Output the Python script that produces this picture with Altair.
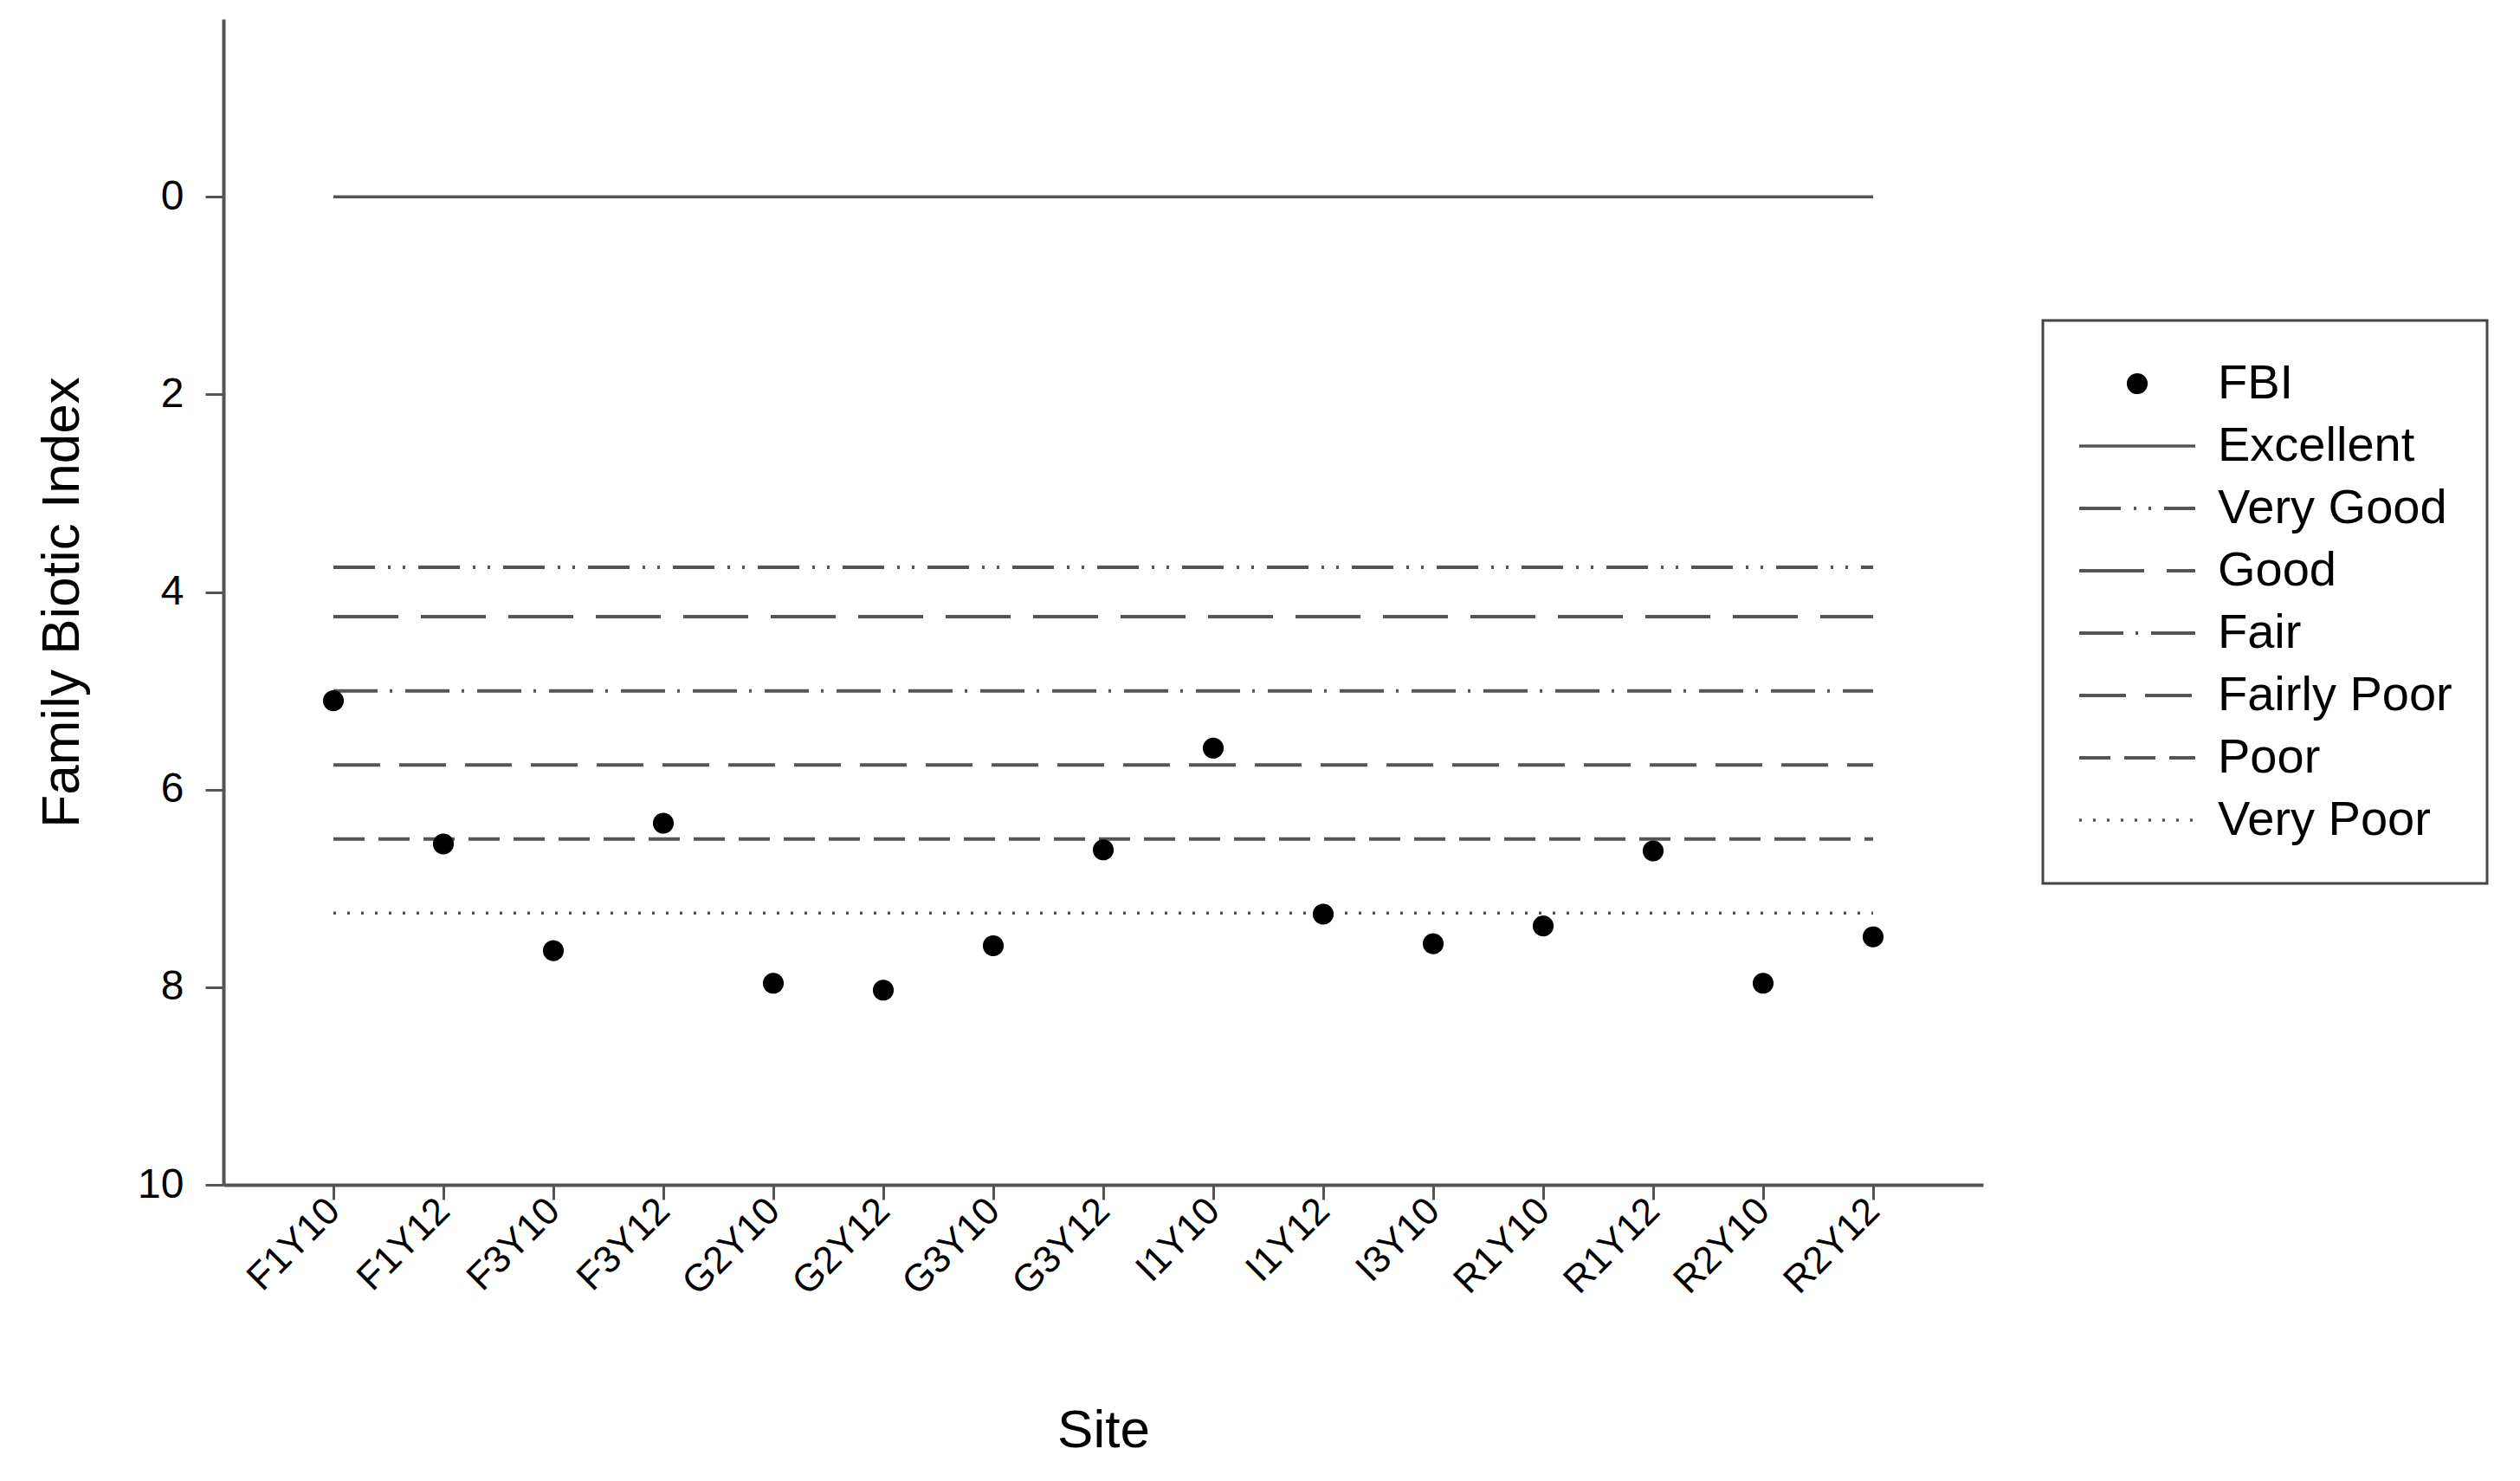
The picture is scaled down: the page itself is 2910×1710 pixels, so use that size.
import altair as alt
import pandas as pd

FONT = "Liberation Sans"

# ---- data ----
sites = ["F1Y10", "F1Y12", "F3Y10", "F3Y12", "G2Y10", "G2Y12", "G3Y10", "G3Y12",
         "I1Y10", "I1Y12", "I3Y10", "R1Y10", "R1Y12", "R2Y10", "R2Y12"]
fbi = [5.10, 6.55, 7.63, 6.34, 7.96, 8.03, 7.58, 6.61,
       5.58, 7.26, 7.56, 7.38, 6.62, 7.96, 7.49]
classes = ["Excellent", "Very Good", "Good", "Fair", "Fairly Poor", "Poor", "Very Poor"]
class_limits = [0.0, 3.75, 4.25, 5.0, 5.75, 6.5, 7.25]
y_ticks = [0, 2, 4, 6, 8, 10]

series = ["FBI"] + classes
dot_path = "M0.15,0A0.15,0.15,0,1,1,-0.15,0A0.15,0.15,0,1,1,0.15,0Z"
shapes = [dot_path] + ["stroke"] * 7
dashes = [[1, 0], [1, 0], [48, 15, 3, 14, 3, 15], [75, 26], [51, 14, 3, 15],
          [54, 22], [36, 16], [3, 13]]
widths = [4, 3.5, 4, 4, 4, 4, 4, 3.5]
strokes = ["black"] + ["#555555"] * 7

df_pts = pd.DataFrame({"site": sites, "fbi": fbi, "series": ["FBI"] * len(sites)})
df_rules = pd.DataFrame({"series": classes, "limit": class_limits,
                         "start": [sites[0]] * len(classes),
                         "end": [sites[-1]] * len(classes)})

x_scale = alt.Scale(type="point", domain=sites, padding=1)
y_scale = alt.Scale(domain=[-1.8, 10], reverse=True, nice=False, zero=False)
shape_scale = alt.Scale(domain=series, range=shapes)
dash_scale = alt.Scale(domain=series, range=dashes)
width_scale = alt.Scale(type="ordinal", domain=series, range=widths)
stroke_scale = alt.Scale(domain=series, range=strokes)

leg = alt.Legend(title=None, orient="none", legendX=2101, legendY=348,
                 padding=40, strokeColor="#444", fillColor="white",
                 symbolSize=17956, symbolFillColor="black", symbolStrokeWidth=4,
                 symbolOffset=0, labelOffset=24, clipHeight=66, rowPadding=6,
                 labelFont=FONT, labelFontSize=56, labelColor="black",
                 labelLimit=0, symbolLimit=0)

x_axis = alt.Axis(title="Site", labelAngle=-45, labelAlign="right", labelBaseline="middle",
                  labelFont=FONT, labelFontSize=44, labelColor="black",
                  titleFont=FONT, titleFontSize=62, titleFontWeight="normal", titleColor="black",
                  tickSize=17, tickWidth=3, tickColor="#555", labelPadding=6, titlePadding=118,
                  domainColor="#555", domainWidth=4, grid=False)
y_axis = alt.Axis(title="Family Biotic Index", values=y_ticks,
                  labelFont=FONT, labelFontSize=48, labelColor="black",
                  titleFont=FONT, titleFontSize=62, titleFontWeight="normal", titleColor="black",
                  tickSize=21, tickWidth=3, tickColor="#555", labelPadding=25, titlePadding=55,
                  domainColor="#555", domainWidth=4, grid=False)

rules = alt.Chart(df_rules).mark_rule(color="#555").encode(
    x=alt.X("start:N", scale=x_scale, axis=x_axis),
    x2="end:N",
    y=alt.Y("limit:Q", scale=y_scale, axis=y_axis),
    stroke=alt.Stroke("series:N", scale=stroke_scale, legend=leg),
    strokeDash=alt.StrokeDash("series:N", scale=dash_scale, legend=leg),
    strokeWidth=alt.StrokeWidth("series:N", scale=width_scale, legend=leg),
)

points = alt.Chart(df_pts).mark_point(filled=True, fill="black", size=17956, opacity=1).encode(
    x=alt.X("site:N", scale=x_scale, axis=x_axis),
    y=alt.Y("fbi:Q", scale=y_scale, axis=y_axis),
    shape=alt.Shape("series:N", scale=shape_scale, legend=leg),
    stroke=alt.Stroke("series:N", scale=stroke_scale, legend=leg),
    strokeDash=alt.StrokeDash("series:N", scale=dash_scale, legend=leg),
    strokeWidth=alt.StrokeWidth("series:N", scale=width_scale, legend=leg),
)

chart = alt.layer(rules, points).properties(
    width=2032, height=1346,
    autosize=alt.AutoSizeParams(type="none"),
    padding={"left": 250, "top": 14, "right": 612, "bottom": 326},
).configure_view(strokeWidth=0).configure_legend(strokeWidth=3)

chart.save("out.html", embed_options={"renderer": "svg", "actions": False})
